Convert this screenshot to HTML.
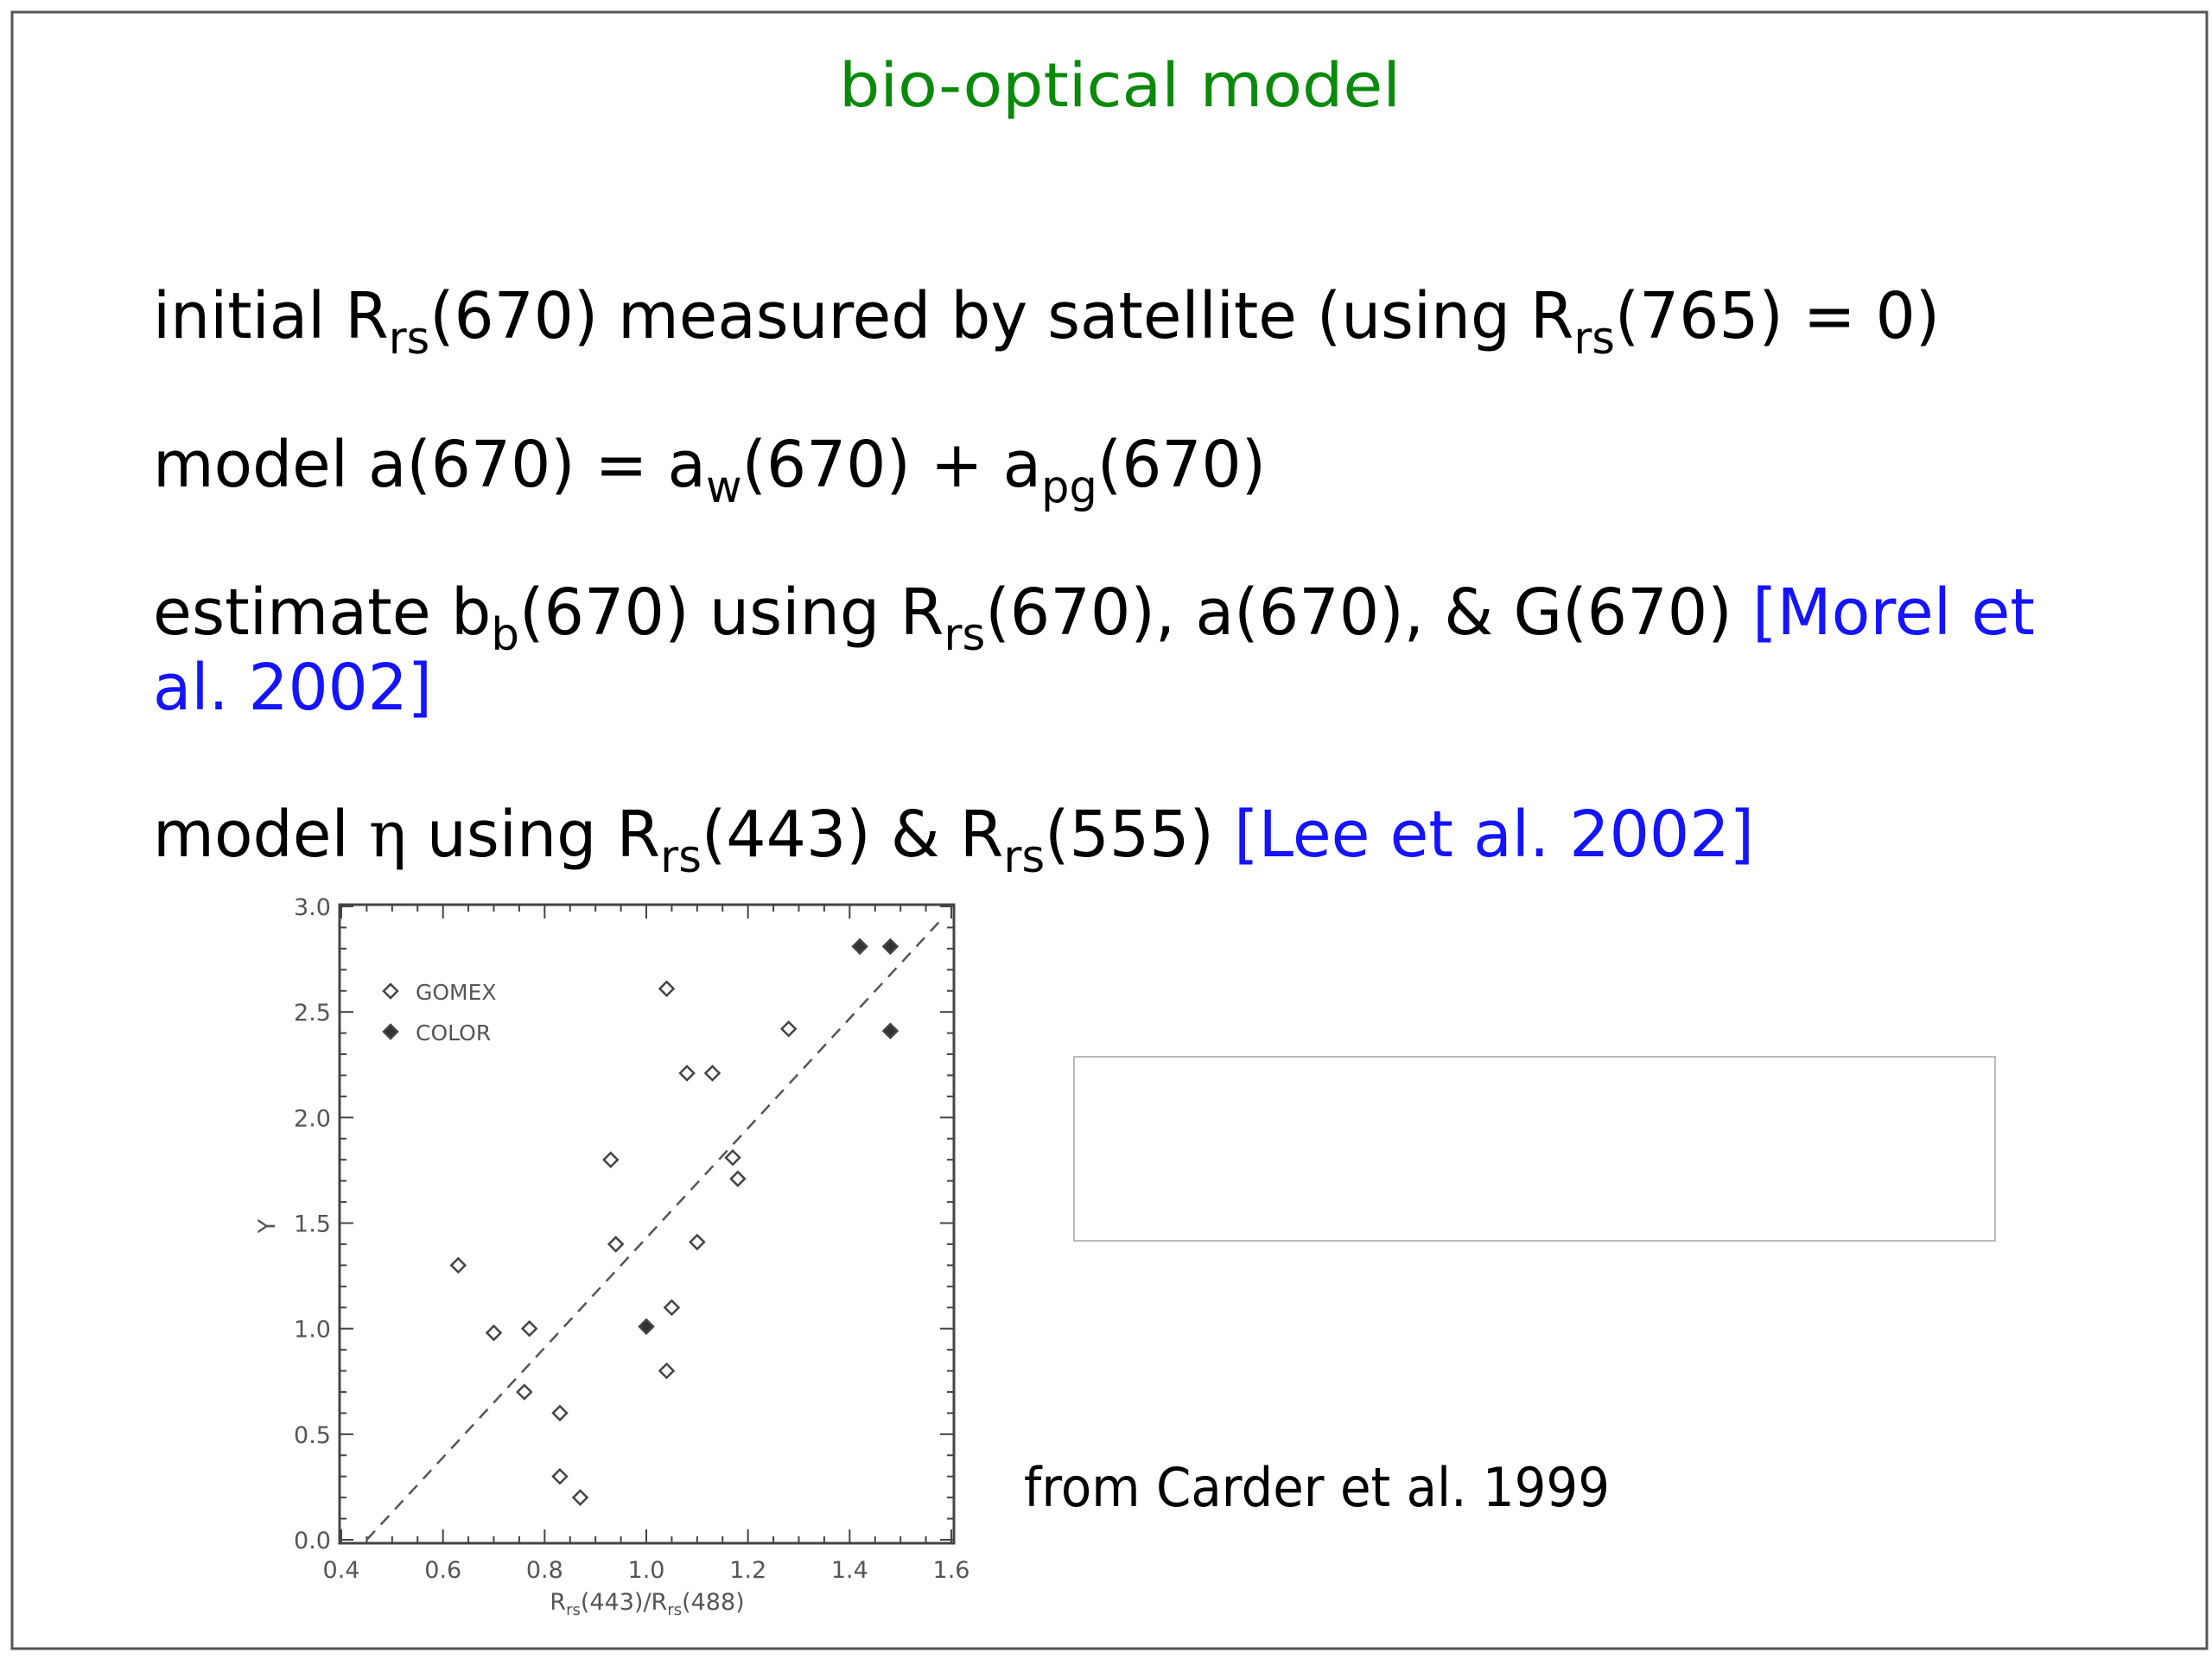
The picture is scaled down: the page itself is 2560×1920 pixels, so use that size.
<!DOCTYPE html>
<html><head><meta charset="utf-8"><style>
html,body{margin:0;padding:0;background:#fff;}
svg{display:block;}
</style></head><body>
<svg width="2560" height="1920" viewBox="0 0 2560 1920" xmlns="http://www.w3.org/2000/svg" font-family="'DejaVu Sans','Liberation Sans',sans-serif">
<rect x="14" y="14" width="2540" height="1894" fill="#fff" stroke="#555" stroke-width="3"/>
<text x="971" y="123" font-size="70" fill="#0a8a0a" textLength="650" lengthAdjust="spacingAndGlyphs">bio-optical model</text>
<g font-size="74" fill="#000">
<text x="177" y="391" textLength="2068" lengthAdjust="spacingAndGlyphs">initial R<tspan font-size="52" dy="18">rs</tspan><tspan dy="-18">(670) measured by satellite (using R</tspan><tspan font-size="52" dy="18">rs</tspan><tspan dy="-18">(765) = 0)</tspan></text>
<text x="177" y="563" textLength="1288" lengthAdjust="spacingAndGlyphs">model a(670) = a<tspan font-size="52" dy="18">w</tspan><tspan dy="-18">(670) + a</tspan><tspan font-size="52" dy="18">pg</tspan><tspan dy="-18">(670)</tspan></text>
<text x="177" y="734" textLength="2178" lengthAdjust="spacingAndGlyphs">estimate b<tspan font-size="52" dy="18">b</tspan><tspan dy="-18">(670) using R</tspan><tspan font-size="52" dy="18">rs</tspan><tspan dy="-18">(670), a(670), &amp; G(670) </tspan><tspan fill="#1414ff">[Morel et</tspan></text>
<text x="177" y="821" fill="#1414ff" textLength="323" lengthAdjust="spacingAndGlyphs">al. 2002]</text>
<text x="177" y="991" textLength="1853" lengthAdjust="spacingAndGlyphs">model <tspan font-family="'DejaVu Serif',serif">η</tspan> using R<tspan font-size="52" dy="18">rs</tspan><tspan dy="-18">(443) &amp; R</tspan><tspan font-size="52" dy="18">rs</tspan><tspan dy="-18">(555) </tspan><tspan fill="#1414ff">[Lee et al. 2002]</tspan></text>
<text x="1185" y="1743" font-size="62" textLength="678" lengthAdjust="spacingAndGlyphs">from Carder et al. 1999</text>
</g>
<rect x="1243" y="1223" width="1066" height="213" fill="none" stroke="#bbb" stroke-width="2"/>
<g id="chart"></g>
</svg>
<script>
const gomexX = [0.63,0.70,0.77,0.76,0.83,0.83,0.87,0.93,0.94,1.04,1.08,1.13,1.28,1.17,1.18,1.10,1.05,1.04];
const gomexY = [1.30,0.98,1.00,0.70,0.60,0.30,0.20,1.80,1.40,2.61,2.21,2.21,2.42,1.81,1.71,1.41,1.10,0.80];
const colorX = [1.00,1.42,1.48,1.48];
const colorY = [1.01,2.81,2.81,2.41];
const xTicks = [0.4,0.6,0.8,1.0,1.2,1.4,1.6];
const yTicks = [0.0,0.5,1.0,1.5,2.0,2.5,3.0];
const fitLine = [[0.45,0.0],[1.585,2.95]];

const NS='http://www.w3.org/2000/svg';
const g=document.getElementById('chart');
const L=395,R=1101,T=1049,B=1782;
const xmin=0.4,xmax=1.6,ymin=0,ymax=3;
const sx=v=>L+(v-xmin)/(xmax-xmin)*(R-L);
const sy=v=>B-(v-ymin)/(ymax-ymin)*(B-T);
function mk(tag,attrs,parent){const e=document.createElementNS(NS,tag);for(const k in attrs)e.setAttribute(k,attrs[k]);(parent||g).appendChild(e);return e;}
const frame=mk('rect',{x:393,y:1047,width:711,height:739,fill:'none',stroke:'#444','stroke-width':3});


// minor/major ticks
for(let i=0;i<=24;i++){const v=xmin+i*0.05;const x=sx(v);const len=(i%4===0)?16:8;
 const t1=mk('line',{x1:x,y1:1786,x2:x,y2:1786-len,stroke:'#444','stroke-width':2});
 
 
 const t2=mk('line',{x1:x,y1:1047,x2:x,y2:1047+len,stroke:'#444','stroke-width':2});
 
 }
for(let i=0;i<=30;i++){const v=i*0.1;const y=sy(v);const len=(i%5===0)?16:8;
 const t1=mk('line',{x1:393,y1:y,x2:393+len,y2:y,stroke:'#444','stroke-width':2});
 
 
 const t2=mk('line',{x1:1104,y1:y,x2:1104-len,y2:y,stroke:'#444','stroke-width':2});
 
 }
xTicks.forEach(v=>{const t=mk('text',{x:sx(v),y:1826,'font-size':27,fill:'#555','text-anchor':'middle'});t.textContent=v.toFixed(1);
 
 });
yTicks.forEach(v=>{const t=mk('text',{x:383,y:sy(v)+10,'font-size':27,fill:'#555','text-anchor':'end'});t.textContent=v.toFixed(1);
 
 });
const xt=mk('text',{x:749,y:1808+55,'font-size':27,fill:'#555','text-anchor':'middle'});
xt.innerHTML='R<tspan font-size="18" dy="6">rs</tspan><tspan dy="-6">(443)/R</tspan><tspan font-size="18" dy="6">rs</tspan><tspan dy="-6">(488)</tspan>';


const yt=mk('text',{x:0,y:0,'font-size':27,fill:'#555','text-anchor':'middle',transform:'translate(318,1419) rotate(-90)'});yt.textContent='Y';


const fl=mk('line',{x1:sx(fitLine[0][0]),y1:sy(fitLine[0][1]),x2:sx(fitLine[1][0]),y2:sy(fitLine[1][1]),stroke:'#555','stroke-width':2.5,'stroke-dasharray':'14 10'});


function diamond(cx,cy,filled){return mk('path',{d:`M${cx} ${cy-8}L${cx+8} ${cy}L${cx} ${cy+8}L${cx-8} ${cy}Z`,fill:filled?'#333':'#fff',stroke:'#444','stroke-width':2.5});}
gomexX.forEach((v,i)=>{const p=diamond(sx(v),sy(gomexY[i]),false);
 
 });
colorX.forEach((v,i)=>{const p=diamond(sx(v),sy(colorY[i]),true);
 
 });
const lg1=diamond(452,1147,false);


const lg2=diamond(452,1194,true);


const lt1=mk('text',{x:481,y:1148+9,'font-size':25,fill:'#555'});lt1.textContent='GOMEX';


const lt2=mk('text',{x:481,y:1195+9,'font-size':25,fill:'#555'});lt2.textContent='COLOR';


</script>
</body></html>
